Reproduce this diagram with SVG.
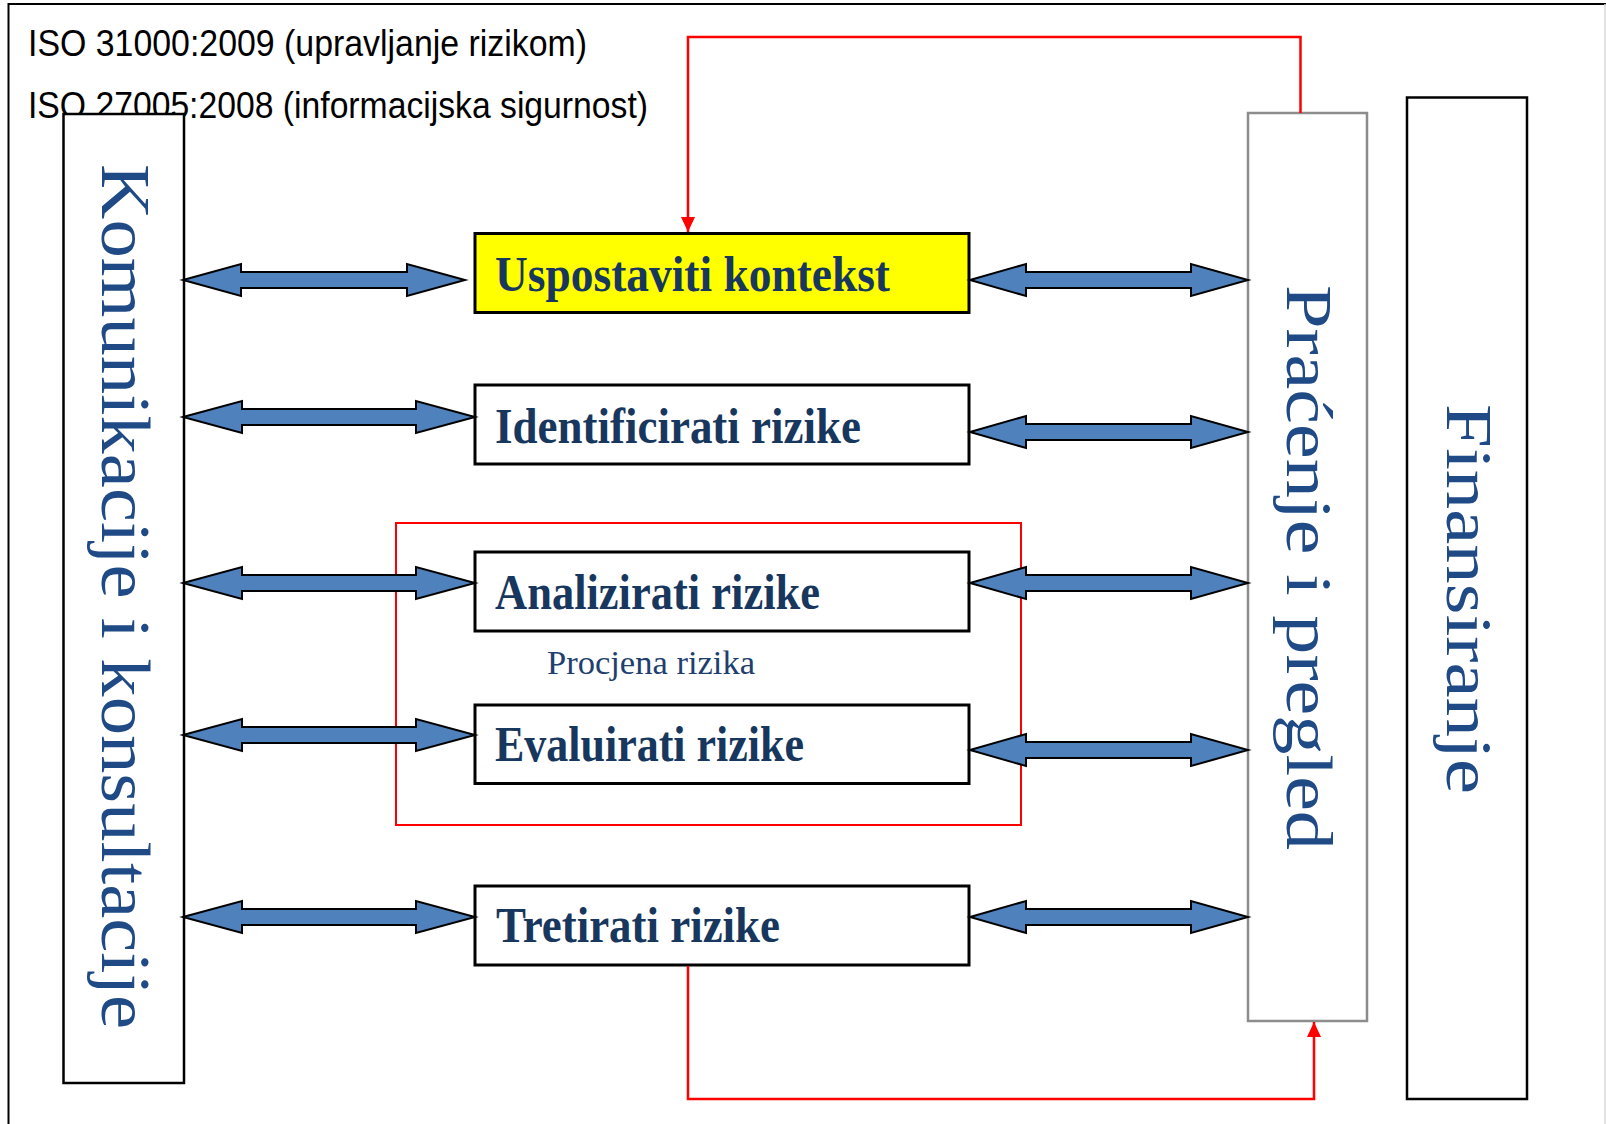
<svg xmlns="http://www.w3.org/2000/svg" width="1606" height="1124" viewBox="0 0 1606 1124">
<style>
.frame{fill:none;stroke:#000;stroke-width:2}
.side{fill:#fff;stroke:#000;stroke-width:2.5}
.side-gray{fill:#fff;stroke:#8c8c8c;stroke-width:2.5}
.box{fill:#fff;stroke:#000;stroke-width:3}
.box-yellow{fill:#ffff00;stroke:#000;stroke-width:3}
.lbl{font-family:"Liberation Serif",serif;font-weight:bold;font-size:50px;fill:#17375e}
.vlbl{font-family:"Liberation Serif",serif;font-size:66px;fill:#1f4a86}
.note{font-family:"Liberation Serif",serif;font-size:34px;fill:#1f3f6f}
.iso{font-family:"Liberation Sans",sans-serif;font-size:37px;fill:#000}
.dbl{fill:#4f81bd;stroke:#000;stroke-width:2;stroke-linejoin:miter}
.red{fill:none;stroke:#ff0000;stroke-width:2.5}
.redbox{fill:none;stroke:#ff0000;stroke-width:2}
</style>
<defs>
<marker id="redHead" markerUnits="userSpaceOnUse" markerWidth="16" markerHeight="14" refX="15" refY="7" orient="auto">
<path d="M0,0 L15,7 L0,14 Z" fill="#ff0000"/>
</marker>
</defs>
<rect width="1606" height="1124" fill="#fff"/>
<path class="frame" d="M8.5,1124 V4 H1606"/>
<line x1="1605" y1="4" x2="1605" y2="1124" stroke="#d8d8d8" stroke-width="1.5"/>

<g id="titles">
<text class="iso" x="28" y="56" textLength="559" lengthAdjust="spacingAndGlyphs">ISO 31000:2009 (upravljanje rizikom)</text>
<text class="iso" x="28" y="118" textLength="620" lengthAdjust="spacingAndGlyphs">ISO 27005:2008 (informacijska sigurnost)</text>
</g>

<g id="procjena-group">
<rect class="redbox" x="396" y="523" width="625" height="302"/>
<text class="note" x="547" y="674" textLength="208" lengthAdjust="spacingAndGlyphs">Procjena rizika</text>
</g>

<g id="komunikacije">
<rect class="side" x="63.5" y="114" width="120.5" height="969"/>
<text class="vlbl" transform="translate(102,596.5) rotate(90)" text-anchor="middle" textLength="865" lengthAdjust="spacingAndGlyphs" style="font-size:70px">Komunikacije i konsultacije</text>
</g>

<g id="pracenje">
<rect class="side-gray" x="1248" y="113" width="119" height="908"/>
<text class="vlbl" transform="translate(1287,567.5) rotate(90)" text-anchor="middle" textLength="565" lengthAdjust="spacingAndGlyphs">Praćenje i pregled</text>
</g>

<g id="finansiranje">
<rect class="side" x="1407" y="97.5" width="120" height="1001.5"/>
<text class="vlbl" transform="translate(1447,599) rotate(90)" text-anchor="middle" textLength="390" lengthAdjust="spacingAndGlyphs">Finansiranje</text>
</g>

<g id="uspostaviti">
<rect class="box-yellow" x="475" y="233.5" width="494" height="79"/>
<text class="lbl" x="495" y="291" textLength="395" lengthAdjust="spacingAndGlyphs">Uspostaviti kontekst</text>
</g>
<g id="identificirati">
<rect class="box" x="475" y="385" width="494" height="79"/>
<text class="lbl" x="495" y="443" textLength="366" lengthAdjust="spacingAndGlyphs">Identificirati rizike</text>
</g>
<g id="analizirati">
<rect class="box" x="475" y="552" width="494" height="79"/>
<text class="lbl" x="495" y="609" textLength="325" lengthAdjust="spacingAndGlyphs">Analizirati rizike</text>
</g>
<g id="evaluirati">
<rect class="box" x="475" y="705" width="494" height="78.5"/>
<text class="lbl" x="495" y="761" textLength="309" lengthAdjust="spacingAndGlyphs">Evaluirati rizike</text>
</g>
<g id="tretirati">
<rect class="box" x="475" y="886" width="494" height="79"/>
<text class="lbl" x="496" y="942" textLength="284" lengthAdjust="spacingAndGlyphs">Tretirati rizike</text>
</g>

<g id="connectors">
<path class="dbl" d="M183,280 L241,264 L241,272 L407,272 L407,264 L465,280 L407,296 L407,288 L241,288 L241,296 Z"/>
<path class="dbl" d="M183,417 L242,401 L242,409 L416,409 L416,401 L475,417 L416,433 L416,425 L242,425 L242,433 Z"/>
<path class="dbl" d="M183,583 L242,567 L242,575 L416,575 L416,567 L475,583 L416,599 L416,591 L242,591 L242,599 Z"/>
<path class="dbl" d="M183,735 L242,719 L242,727 L416,727 L416,719 L475,735 L416,751 L416,743 L242,743 L242,751 Z"/>
<path class="dbl" d="M183,917 L242,901 L242,909 L416,909 L416,901 L475,917 L416,933 L416,925 L242,925 L242,933 Z"/>
<path class="dbl" d="M970,280 L1026,264 L1026,272 L1191,272 L1191,264 L1248,280 L1191,296 L1191,288 L1026,288 L1026,296 Z"/>
<path class="dbl" d="M970,432 L1026,416 L1026,424 L1191,424 L1191,416 L1248,432 L1191,448 L1191,440 L1026,440 L1026,448 Z"/>
<path class="dbl" d="M970,583 L1026,567 L1026,575 L1191,575 L1191,567 L1248,583 L1191,599 L1191,591 L1026,591 L1026,599 Z"/>
<path class="dbl" d="M970,750 L1026,734 L1026,742 L1191,742 L1191,734 L1248,750 L1191,766 L1191,758 L1026,758 L1026,766 Z"/>
<path class="dbl" d="M970,917 L1026,901 L1026,909 L1191,909 L1191,901 L1248,917 L1191,933 L1191,925 L1026,925 L1026,933 Z"/>
<path class="red" d="M1300.5,113 V37 H688 V232" marker-end="url(#redHead)"/>
<path class="red" d="M688,966 V1099 H1314 V1022" marker-end="url(#redHead)"/>
</g>
</svg>
